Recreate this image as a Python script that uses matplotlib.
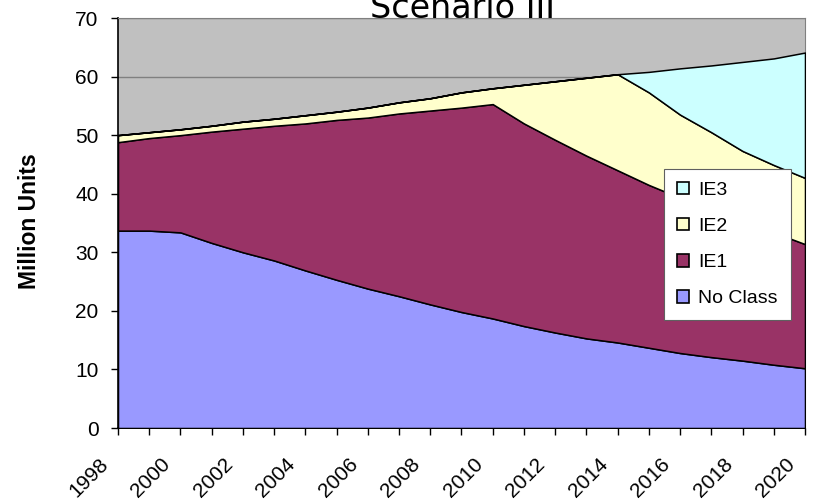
import matplotlib
matplotlib.use('Agg')
import matplotlib.pyplot as plt
import matplotlib.transforms as mtransforms
from matplotlib.patches import Patch

plt.rcParams['font.family'] = ['Liberation Sans', 'DejaVu Sans']

years = list(range(1998, 2021))
no_class = [33.7, 33.7, 33.4, 31.6, 30.0, 28.6, 26.9, 25.3, 23.8, 22.5, 21.1, 19.8,
            18.7, 17.4, 16.3, 15.3, 14.6, 13.7, 12.8, 12.1, 11.5, 10.8, 10.2]
ie1 = [15.1, 15.8, 16.6, 19.0, 21.1, 23.0, 25.1, 27.3, 29.2, 31.2, 33.1, 34.9,
       36.6, 34.6, 32.9, 31.2, 29.4, 27.8, 26.5, 25.3, 24.0, 22.6, 21.2]
ie2 = [1.2, 1.0, 1.0, 1.0, 1.2, 1.2, 1.4, 1.4, 1.7, 1.9, 2.1, 2.6,
       2.7, 6.6, 10.0, 13.3, 16.4, 15.8, 14.2, 13.1, 11.8, 11.5, 11.3]
ie3 = [0, 0, 0, 0, 0, 0, 0, 0, 0, 0, 0, 0,
       0, 0, 0, 0, 0, 3.5, 7.9, 11.4, 15.2, 18.2, 21.4]
series_names = ['No Class', 'IE1', 'IE2', 'IE3']
colors = ['#9999FF', '#993366', '#FFFFCC', '#CCFFFF']
y_ticks = [0, 10, 20, 30, 40, 50, 60, 70]
label_years = years[::2]

fig = plt.figure(figsize=(8.17, 5.01), dpi=100)
ax = fig.add_axes([118 / 817, 73 / 501, 687 / 817, 410 / 501])
ax.set_facecolor('#C0C0C0')

ax.stackplot(years, no_class, ie1, ie2, ie3, colors=colors,
             edgecolor='black', linewidth=1.1, zorder=3)

ax.set_xlim(1998, 2020)
ax.set_ylim(0, 70)
ax.set_yticks(y_ticks)
ax.yaxis.grid(True, color='#808080', linewidth=1)
ax.set_axisbelow(True)

ax.set_xticks(label_years)
ax.set_xticklabels([str(y) for y in label_years], rotation=45,
                   ha='right', va='center', rotation_mode='anchor')
ax.set_xticks(years, minor=True)
ax.tick_params(axis='x', which='both', direction='out', length=5, width=1,
               labelsize=15, pad=19)
ax.tick_params(axis='y', direction='out', length=5, width=1,
               labelsize=15, pad=9)

# shift rotated year labels so their end sits left of the tick
shift = mtransforms.ScaledTranslation(-13 / 100, 0, fig.dpi_scale_trans)
for lbl in ax.get_xticklabels():
    lbl.set_transform(lbl.get_transform() + shift)

for side in ['left', 'bottom']:
    ax.spines[side].set_color('black')
    ax.spines[side].set_linewidth(1.2)
for side in ['top', 'right']:
    ax.spines[side].set_color('#808080')
    ax.spines[side].set_linewidth(0.8)

ax.set_ylabel('Million Units', fontsize=16.5, fontweight='bold')
ax.yaxis.set_label_coords(-0.112, 0.505)

fig.text(462 / 817, 1 - 18 / 501, 'Scenario III', ha='center', va='baseline',
         fontsize=24, family='DejaVu Sans')

handles = [Patch(facecolor=c, edgecolor='black', linewidth=1.2) for c in colors]
leg = ax.legend(handles[::-1], series_names[::-1], loc='upper left',
                bbox_to_anchor=(664 / 817, 1 - 169 / 501),
                bbox_transform=fig.transFigure, borderaxespad=0,
                fontsize=14, handlelength=0.62, handleheight=0.62,
                handletextpad=0.5, labelspacing=0.98, borderpad=0.65,
                fancybox=False, framealpha=1, edgecolor='#606060')
leg.get_frame().set_linewidth(0.8)
leg.set_zorder(5)

fig.savefig('out.png', dpi=100)
